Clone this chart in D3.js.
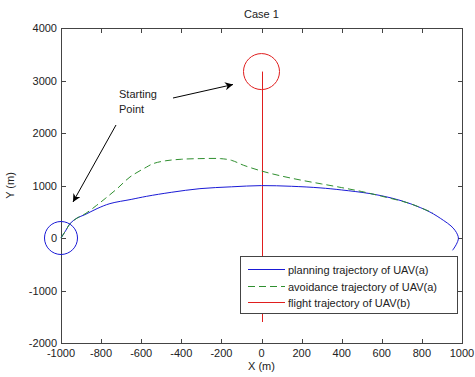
<!DOCTYPE html>
<html><head><meta charset="utf-8">
<script src="https://cdn.jsdelivr.net/npm/d3@7"></script>
<style>
html,body{margin:0;padding:0;background:#fff;}
svg{display:block;font-family:"Liberation Sans",Arial,sans-serif;}
</style></head>
<body>
<svg id="c" width="475" height="377"></svg>
<script>
// ---- data ----
const title = "Case 1";
const xLabel = "X (m)";
const yLabel = "Y (m)";
const xTicks = [-1000,-800,-600,-400,-200,0,200,400,600,800,1000];
const yTicks = [-2000,-1000,0,1000,2000,3000,4000];
const seriesNames = ["planning trajectory of UAV(a)","avoidance trajectory of UAV(a)","flight trajectory of UAV(b)"];
const planningX = [-1000,-975,-955,-920,-880,-820,-756,-650,-573,-450,-307,-150,0,150,292,400,541,650,741,840,907,945,965,978,982,972,953];
const planningY = [0,150,274,380,446,560,655,735,794,870,940,975,998,985,955,915,846,760,655,495,337,230,147,60,-11,-120,-234];
const avoidX = [-1000,-975,-955,-920,-880,-822,-780,-720,-656,-573,-540,-480,-400,-307,-205,-150,-89,0,100,200,300,400,500,600,741,855];
const avoidY = [0,150,274,380,460,623,750,940,1162,1352,1417,1470,1500,1512,1512,1480,1385,1276,1180,1100,1030,960,885,795,655,476];
const flightX = [0,0];
const flightY = [-1600,3170];
const startMarkers = [{x:-1000,y:0,c:"blue"},{x:0,y:3170,c:"red"}];
const annotationText = ["Starting","Point"];

// ---- layout ----
const L=61,R=462,T=28,B=343;
const x=d3.scaleLinear().domain([-1000,1000]).range([L,R]);
const y=d3.scaleLinear().domain([-2000,4000]).range([B,T]);
const colors={blue:"#1a1ad6",green:"#2f8f2f",red:"#e01e1e"};
const axisCol="#444";
const svg=d3.select("#c");

// frame
svg.append("rect").attr("x",L+0.5).attr("y",T+0.5).attr("width",R-L).attr("height",B-T)
  .attr("fill","#fff").attr("stroke",axisCol).attr("stroke-width",1);

// ticks (inward, all sides)
const tl=4;
xTicks.forEach(t=>{
  const px=Math.round(x(t))+0.5;
  svg.append("line").attr("x1",px).attr("x2",px).attr("y1",B).attr("y2",B-tl).attr("stroke",axisCol);
  svg.append("line").attr("x1",px).attr("x2",px).attr("y1",T+1).attr("y2",T+1+tl).attr("stroke",axisCol);
  svg.append("text").attr("x",x(t)).attr("y",357).attr("text-anchor","middle")
    .attr("font-size",11).attr("fill","#222").text(t);
});
yTicks.forEach(t=>{
  const py=Math.round(y(t))+0.5;
  svg.append("line").attr("x1",L+1).attr("x2",L+1+tl).attr("y1",py).attr("y2",py).attr("stroke",axisCol);
  svg.append("line").attr("x1",R).attr("x2",R-tl).attr("y1",py).attr("y2",py).attr("stroke",axisCol);
  svg.append("text").attr("x",L-4).attr("y",y(t)+4).attr("text-anchor","end")
    .attr("font-size",11).attr("fill","#222").text(t);
});

// labels
svg.append("text").attr("x",(L+R)/2).attr("y",18).attr("text-anchor","middle").attr("font-size",11).attr("fill","#222").text(title);
svg.append("text").attr("x",(L+R)/2).attr("y",370).attr("text-anchor","middle").attr("font-size",11).attr("fill","#222").text(xLabel);
svg.append("text").attr("transform",`translate(14,${(T+B)/2}) rotate(-90)`).attr("text-anchor","middle").attr("font-size",11).attr("fill","#222").text(yLabel);

// lines
const g=svg.append("g");
const flight=flightX.map((v,i)=>[v,flightY[i]]);
const plan=planningX.map((v,i)=>[v,planningY[i]]);
const avoid=avoidX.map((v,i)=>[v,avoidY[i]]);
g.append("path").datum(flight).attr("d",d3.line().x(d=>Math.round(x(d[0]))+0.5).y(d=>y(d[1])))
  .attr("fill","none").attr("stroke",colors.red).attr("stroke-width",1);
g.append("path").datum(plan).attr("d",d3.line().curve(d3.curveCatmullRom).x(d=>x(d[0])).y(d=>y(d[1]))).attr("fill","none").attr("stroke",colors.blue).attr("stroke-width",1);
g.append("path").datum(avoid).attr("d",d3.line().curve(d3.curveCatmullRom).x(d=>x(d[0])).y(d=>y(d[1]))).attr("fill","none").attr("stroke",colors.green).attr("stroke-width",1).attr("stroke-dasharray","7,4");

// markers
g.selectAll("circle.m").data(startMarkers).enter().append("circle")
  .attr("cx",d=>x(d.x)).attr("cy",d=>y(d.y)).attr("r",(d,i)=>i===0?16.5:18)
  .attr("fill","none").attr("stroke",d=>colors[d.c]).attr("stroke-width",1);

// annotation
const defs=svg.append("defs");
defs.append("marker").attr("id","ah").attr("viewBox","0 0 10 10").attr("refX",10).attr("refY",5)
  .attr("markerWidth",12).attr("markerHeight",8).attr("markerUnits","userSpaceOnUse").attr("orient","auto")
  .append("path").attr("d","M0,0 L10,5 L0,10 L3,5 Z").attr("fill","#000");
const at=svg.append("text").attr("font-size",11).attr("fill","#222");
annotationText.forEach((s,i)=>at.append("tspan").attr("x",119).attr("y",98+i*15).text(s));
svg.append("line").attr("x1",173).attr("y1",98).attr("x2",233).attr("y2",84.5).attr("stroke","#000").attr("marker-end","url(#ah)");
svg.append("line").attr("x1",116).attr("y1",125).attr("x2",73).attr("y2",202).attr("stroke","#000").attr("marker-end","url(#ah)");

// legend
const lg=svg.append("g");
lg.append("rect").attr("x",240.5).attr("y",256.5).attr("width",217).attr("height",57).attr("fill","#fff").attr("stroke",axisCol);
const lc=[colors.blue,colors.green,colors.red];
const ld=[null,"7,4",null];
seriesNames.forEach((n,i)=>{
  const yy=Math.round(269+i*16.7)+0.5;
  lg.append("line").attr("x1",248).attr("x2",285).attr("y1",yy).attr("y2",yy).attr("stroke",lc[i]).attr("stroke-dasharray",ld[i]);
  lg.append("text").attr("x",288).attr("y",yy+4).attr("font-size",11).attr("fill","#222").text(n);
});
</script>
</body></html>
